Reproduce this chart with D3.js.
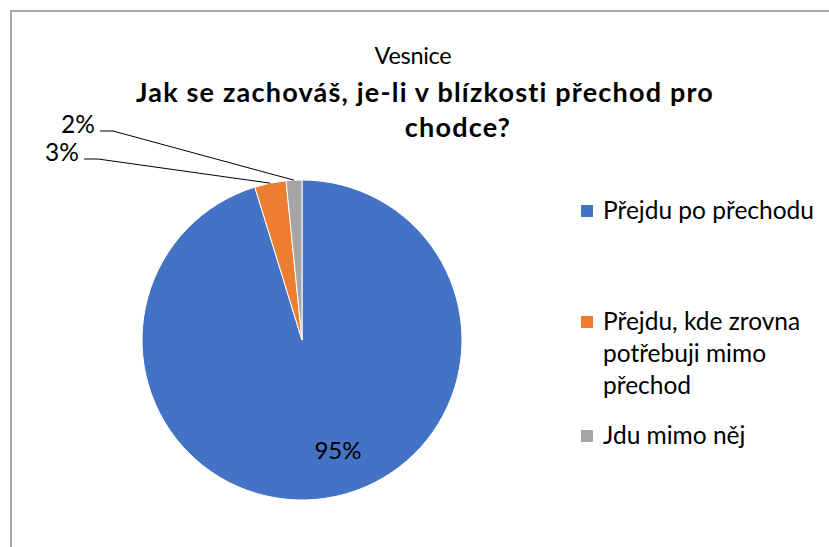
<!DOCTYPE html>
<html>
<head>
<meta charset="utf-8">
<script src="https://cdn.jsdelivr.net/npm/d3@7"></script>
<style>
  body { margin: 0; background: #fff; }
  svg text { font-family: Lato, "Noto Sans", sans-serif; fill: #000; }
</style>
</head>
<body>
<div id="chart"></div>
<script>
// answer labels and counts (95% / 3% / 2%)
const categories = ["Přejdu po přechodu", "Přejdu, kde zrovna potřebuji mimo přechod", "Jdu mimo něj"];
const legendLines = [["Přejdu po přechodu"], ["Přejdu, kde zrovna", "potřebuji mimo", "přechod"], ["Jdu mimo něj"]];
const counts = [60, 2, 1];
const colors = ["#4472C4", "#ED7D31", "#A5A5A5"];
const titleTop = "Vesnice";
const titleLines = ["Jak se zachováš, je-li v blízkosti přechod pro", "chodce?"];

const width = 829, height = 547;
const cx = 302, cy = 340, r = 160;

const svg = d3.select("#chart").append("svg")
  .attr("width", width)
  .attr("height", height);

// chart frame (runs off the right / bottom edge)
svg.append("rect")
  .attr("x", 11).attr("y", 11)
  .attr("width", width + 20).attr("height", height + 20)
  .attr("fill", "none")
  .attr("stroke", "#8c8c8c")
  .attr("stroke-width", 1.5);

// titles
svg.append("text")
  .attr("x", 413).attr("y", 64)
  .attr("text-anchor", "middle")
  .attr("font-size", 23.5)
  .attr("letter-spacing", -0.3)
  .text(titleTop);

svg.selectAll(".tline").data(titleLines).enter()
  .append("text")
  .attr("class", "tline")
  .attr("x", (d, i) => i === 0 ? 425 : 458)
  .attr("y", (d, i) => 102 + i * 35)
  .attr("text-anchor", "middle")
  .attr("font-size", 27)
  .attr("letter-spacing", 1.2)
  .attr("font-weight", "bold")
  .text(d => d);

// pie
const total = d3.sum(counts);
const pie = d3.pie().sort(null).value(d => d);
const arcs = pie(counts);
const arc = d3.arc().innerRadius(0).outerRadius(r);

const g = svg.append("g").attr("transform", `translate(${cx},${cy})`);

g.selectAll("path").data(arcs).enter()
  .append("path")
  .attr("d", arc)
  .attr("fill", (d, i) => colors[i])
  .attr("stroke", "#fff")
  .attr("stroke-width", 1);

const pct = d => Math.round(d.value / total * 100) + "%";

// label of the big slice sits inside
g.append("text")
  .attr("x", 36).attr("y", 119)
  .attr("text-anchor", "middle")
  .attr("font-size", 24)
  .text(pct(arcs[0]));

// small slices get outside labels with leader lines
const outside = [
  { i: 1, lx: 62, ly: 161, bend: 98 },
  { i: 2, lx: 78, ly: 133, bend: 113 }
];

outside.forEach(o => {
  const a = arcs[o.i];
  const mid = (a.startAngle + a.endAngle) / 2;
  const ex = cx + r * Math.sin(mid);
  const ey = cy - r * Math.cos(mid);
  const lineY = o.ly - 2;
  svg.append("polyline")
    .attr("points", [[o.lx + 22, lineY], [o.bend, lineY], [ex, ey]].map(p => p.join(",")).join(" "))
    .attr("fill", "none")
    .attr("stroke", "#000")
    .attr("stroke-width", 1);
  svg.append("text")
    .attr("x", o.lx).attr("y", o.ly)
    .attr("text-anchor", "middle")
    .attr("font-size", 24.5)
    .text(pct(a));
});

// legend
const legendY = [211, 322, 436];
const legend = svg.selectAll(".leg").data(categories).enter()
  .append("g")
  .attr("class", "leg")
  .attr("transform", (d, i) => `translate(581,${legendY[i]})`);

legend.append("rect")
  .attr("x", 0).attr("y", -6)
  .attr("width", 12).attr("height", 12)
  .attr("fill", (d, i) => colors[i]);

legend.each(function (d, i) {
  d3.select(this).selectAll("text").data(legendLines[i]).enter()
    .append("text")
    .attr("x", 22)
    .attr("y", (t, j) => 8 + j * 32)
    .attr("font-size", 24.5)
    .text(t => t);
});
</script>
</body>
</html>
